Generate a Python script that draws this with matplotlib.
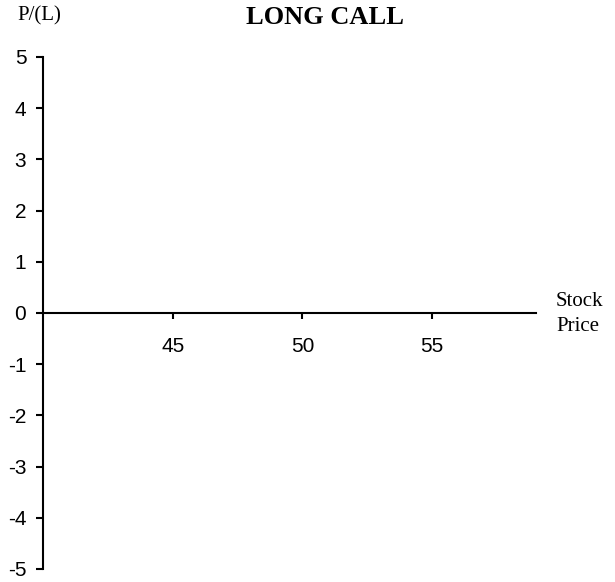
import matplotlib
matplotlib.use('Agg')
import matplotlib.pyplot as plt
from matplotlib.ticker import FixedLocator

# Datos del grafico (vacio, solo ejes)
precios_ticks = [45, 50, 55]
pl_ticks = [-5, -4, -3, -2, -1, 0, 1, 2, 3, 4, 5]
rango_precio = [40, 59]
rango_pl = [-5, 5]
titulo = 'LONG CALL'
etiqueta_y = 'P/(L)'
etiqueta_x = 'Stock\nPrice'

fig = plt.figure(figsize=(6.15, 5.82), dpi=100)
# ejes: izquierda 43 px, arriba 57 px, abajo 569 px
ax = fig.add_axes([43 / 615, 1 - 569 / 582, 493 / 615, 512 / 582])

ax.set_xlim(rango_precio)
ax.set_ylim(rango_pl)
ax.xaxis.set_major_locator(FixedLocator(precios_ticks))
ax.yaxis.set_major_locator(FixedLocator(pl_ticks))
ax.set_yticklabels([str(v) for v in pl_ticks])

for lado in ['top', 'right']:
    ax.spines[lado].set_visible(False)
ax.spines['bottom'].set_position(('data', 0))
ax.spines['bottom'].set_linewidth(1.5)
ax.spines['left'].set_linewidth(1.5)

ax.tick_params(axis='x', direction='out', length=4.3, width=1.5, pad=13)
ax.tick_params(axis='y', direction='out', length=5, width=1.5, pad=7)
for lbl in ax.get_xticklabels() + ax.get_yticklabels():
    lbl.set_fontfamily('Liberation Sans')
    lbl.set_fontsize(15)

fig.text(325 / 615, 1 - 17 / 582, titulo, ha='center', va='center',
         family='Liberation Serif', fontweight='bold', fontsize=19)
fig.text(17 / 615, 1 - 16 / 582, etiqueta_y, ha='left', va='center',
         family='Liberation Serif', fontsize=15)
fig.text(556 / 615, 1 - 314 / 582, etiqueta_x, ha='left', va='center',
         family='Liberation Serif', fontsize=15, linespacing=1.45)

fig.savefig('out.png', dpi=100)
